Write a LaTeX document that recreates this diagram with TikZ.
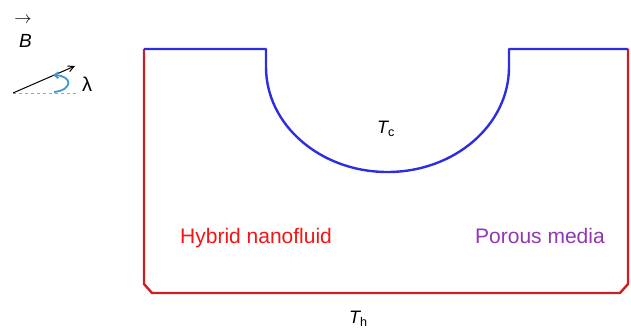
\documentclass[tikz,border=0pt]{standalone}
\usepackage{fontspec}
\setmainfont{Liberation Sans}
\usetikzlibrary{arrows.meta}

\definecolor{hotred}{RGB}{205,30,35}
\definecolor{labelred}{RGB}{245,20,20}
\definecolor{coldblue}{RGB}{45,45,225}
\definecolor{mediapurple}{RGB}{145,55,175}
\definecolor{anglecyan}{RGB}{60,150,210}

\begin{document}
\begin{tikzpicture}[
    x=1pt, y=-1pt,
    hot/.style={draw=hotred, line width=2.4pt, line join=round},
    cold/.style={draw=coldblue, line width=2.4pt, line join=round},
    label/.style={inner sep=0pt, anchor=base west, font=\fontsize{21}{24}\selectfont},
    temp/.style={inner sep=0pt, anchor=base west, font=\fontsize{18}{20}\selectfont\itshape},
    field/.style={-{Straight Barb[length=6pt,width=6pt]}, line width=1pt}
]
    \useasboundingbox (0,0) rectangle (631,331);

    % walls
    \draw[hot] (144,49) -- (144,284) -- (152,293) -- (620,293) -- (628,284) -- (628,49);
    \draw[cold] (144,49) -- (266,49) -- (266,67)
        arc[start angle=180, end angle=0, x radius=121.5, y radius=105] -- (509,49) -- (628,49);

    % labels
    \node[label, text=labelred] (fluid) at (180,243) {Hybrid nanofluid};
    \node[label, text=mediapurple] (media) at (475,243) {Porous media};
    \node[temp] (tc) at (377,134) {T\textsubscript{\upshape c}};
    \node[temp] (th) at (349,323) {T\textsubscript{\upshape h}};

    % magnetic field
    \node[temp, font=\fontsize{19}{20}\selectfont\itshape] (bfield) at (19,48) {B};
    \node[inner sep=0pt, font=\fontsize{19}{20}\selectfont] (bvec) at (23,20) {$\rightarrow$};
    \coordinate (tail) at (13,93);
    \coordinate (head) at (75,66);
    \coordinate (base) at (79,93);
    \draw[gray!70, dashed, line width=0.8pt] (tail) -- (base);
    \draw[field] (tail) -- (head);
    \draw[anglecyan, line width=1.8pt, -{Straight Barb[length=4pt,width=6pt]}]
        (54,92) .. controls (73,90) and (73,76) .. (53,75);
    \node[inner sep=0pt, anchor=base west, font=\fontsize{20}{22}\selectfont] (lambda) at (82,92) {λ};
\end{tikzpicture}
\end{document}
